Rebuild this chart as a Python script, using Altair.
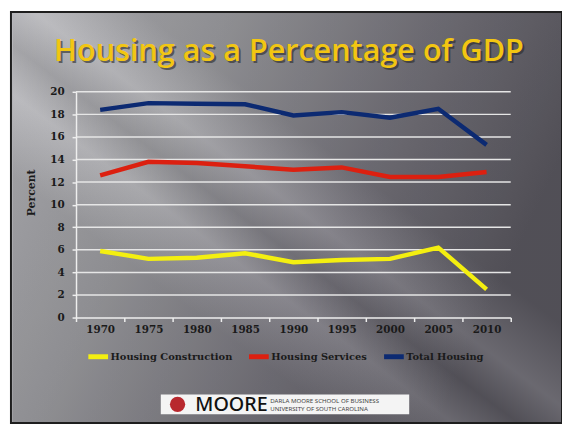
import altair as alt
import pandas as pd

years = ["1970", "1975", "1980", "1985", "1990", "1995", "2000", "2005", "2010"]
construction = [5.9, 5.2, 5.3, 5.7, 4.9, 5.1, 5.2, 6.2, 2.5]
services = [12.6, 13.8, 13.7, 13.4, 13.1, 13.3, 12.45, 12.45, 12.9]
total = [18.4, 19.0, 18.95, 18.9, 17.9, 18.2, 17.7, 18.5, 15.3]
series_names = ["Housing Construction", "Housing Services", "Total Housing"]
series_colors = ["#f4ef10", "#dc2010", "#0c2a72"]
y_ticks = [0, 2, 4, 6, 8, 10, 12, 14, 16, 18, 20]
title_text = "Housing as a Percentage of GDP"

rows = []
for name, vals in zip(series_names, [construction, services, total]):
    for yr, v in zip(years, vals):
        rows.append({"year": yr, "value": v, "series": name})
df = pd.DataFrame(rows)
grid_df = pd.DataFrame({"value": y_ticks[1:]})

one = pd.DataFrame({"a": [0]})
serif = "DejaVu Serif"

y_axis = alt.Axis(title="Percent", values=y_ticks, grid=False, zindex=1,
                  domainColor="#eeeeee", domainWidth=1.5,
                  tickColor="#eeeeee", tickWidth=1.5, tickSize=4,
                  labelFont=serif, labelFontWeight="bold", labelFontSize=10.5,
                  labelColor="#1a1a1a", labelPadding=8,
                  titleFont=serif, titleFontWeight="bold", titleFontSize=11,
                  titleColor="#1a1a1a", titlePadding=13, titleY=102)
y_scale = alt.Scale(domain=[0, 20], nice=False)

bg = alt.Chart(one).mark_rect(
    fill={
        "gradient": "linear",
        "x1": 0, "y1": 0, "x2": 1, "y2": 0.35,
        "stops": [
            {"offset": 0, "color": "#b9b9bd"},
            {"offset": 0.35, "color": "#9e9ea2"},
            {"offset": 0.7, "color": "#76747c"},
            {"offset": 1, "color": "#5a5860"},
        ],
    },
    stroke="#1e1e1e", strokeWidth=2,
).encode(x=alt.value(-66), x2=alt.value(493), y=alt.value(-81), y2=alt.value(336))

streak = alt.Chart(one).mark_rect(
    fill={
        "gradient": "linear",
        "x1": 0, "y1": 1, "x2": 1, "y2": 0,
        "stops": [
            {"offset": 0, "color": "#000000"},
            {"offset": 0.30, "color": "#000000"},
            {"offset": 0.40, "color": "#ffffff"},
            {"offset": 0.46, "color": "#000000"},
            {"offset": 0.52, "color": "#ffffff"},
            {"offset": 0.62, "color": "#000000"},
            {"offset": 1, "color": "#000000"},
        ],
    },
    opacity=0.10,
).encode(x=alt.value(-64), x2=alt.value(492), y=alt.value(-80), y2=alt.value(335))

grid = alt.Chart(grid_df).mark_rule(color="#e6e6e6", strokeWidth=1.5).encode(
    y=alt.Y("value:Q", scale=y_scale, axis=y_axis))

lines = alt.Chart(df).mark_line(strokeWidth=4.5).encode(
    x=alt.X("year:O", bandPosition=0.5,
            scale=alt.Scale(type="band", paddingInner=0, paddingOuter=0),
            axis=alt.Axis(title=None, tickBand="extent", grid=False, labelAngle=0,
                          zindex=1,
                          domainColor="#eeeeee", domainWidth=1.5,
                          tickColor="#eeeeee", tickWidth=1.5, tickSize=4,
                          labelFont=serif, labelFontWeight="bold", labelFontSize=10.5,
                          labelColor="#1a1a1a", labelPadding=3)),
    y=alt.Y("value:Q", scale=y_scale, axis=y_axis),
    color=alt.Color("series:N",
                    scale=alt.Scale(domain=series_names, range=series_colors),
                    legend=alt.Legend(title=None, orient="none", direction="horizontal",
                                      legendX=10, legendY=256,
                                      symbolType="stroke", symbolSize=400,
                                      symbolStrokeWidth=5, labelOffset=0,
                                      columnPadding=6,
                                      labelFont=serif, labelFontWeight="bold",
                                      labelFontSize=10, labelColor="#1a1a1a")),
)

title_shadow = alt.Chart(one).mark_text(
    text=title_text, font="Open Sans", fontSize=31, fontWeight=600,
    color="#2a2a2a", opacity=0.6, align="center", baseline="middle",
).encode(x=alt.value(218), y=alt.value(-38))
title = alt.Chart(one).mark_text(
    text=title_text, font="Open Sans", fontSize=31, fontWeight=600,
    color="#f2c612", align="center", baseline="middle",
).encode(x=alt.value(216), y=alt.value(-40))

logo_box = alt.Chart(one).mark_rect(fill="#f4f4f4").encode(
    x=alt.value(86), x2=alt.value(338), y=alt.value(307), y2=alt.value(327))
logo_emblem = alt.Chart(one).mark_point(
    shape="circle", size=240, filled=True, color="#b8282e", opacity=1).encode(
    x=alt.value(103), y=alt.value(317))
logo_word = alt.Chart(one).mark_text(
    text="MOORE", font="Noto Sans", fontSize=20, fontWeight=500, color="#111111",
    align="left", baseline="middle").encode(x=alt.value(121), y=alt.value(318))
logo_l1 = alt.Chart(one).mark_text(
    text="DARLA MOORE SCHOOL OF BUSINESS", font="Noto Sans", fontSize=6.2,
    color="#444444", align="left", baseline="middle").encode(x=alt.value(197), y=alt.value(314))
logo_l2 = alt.Chart(one).mark_text(
    text="UNIVERSITY OF SOUTH CAROLINA", font="Noto Sans", fontSize=6.2,
    color="#444444", align="left", baseline="middle").encode(x=alt.value(197), y=alt.value(322))

chart = alt.layer(
    bg, streak, grid, lines, title_shadow, title,
    logo_box, logo_emblem, logo_word, logo_l1, logo_l2,
).properties(
    width=441, height=229,
    autosize=alt.AutoSizeParams(type="none"),
    padding={"left": 69, "top": 82, "right": 52, "bottom": 107},
    background="#ffffff",
).configure_view(stroke=None)

chart.save("out.html", embed_options={"renderer": "svg", "actions": False})
